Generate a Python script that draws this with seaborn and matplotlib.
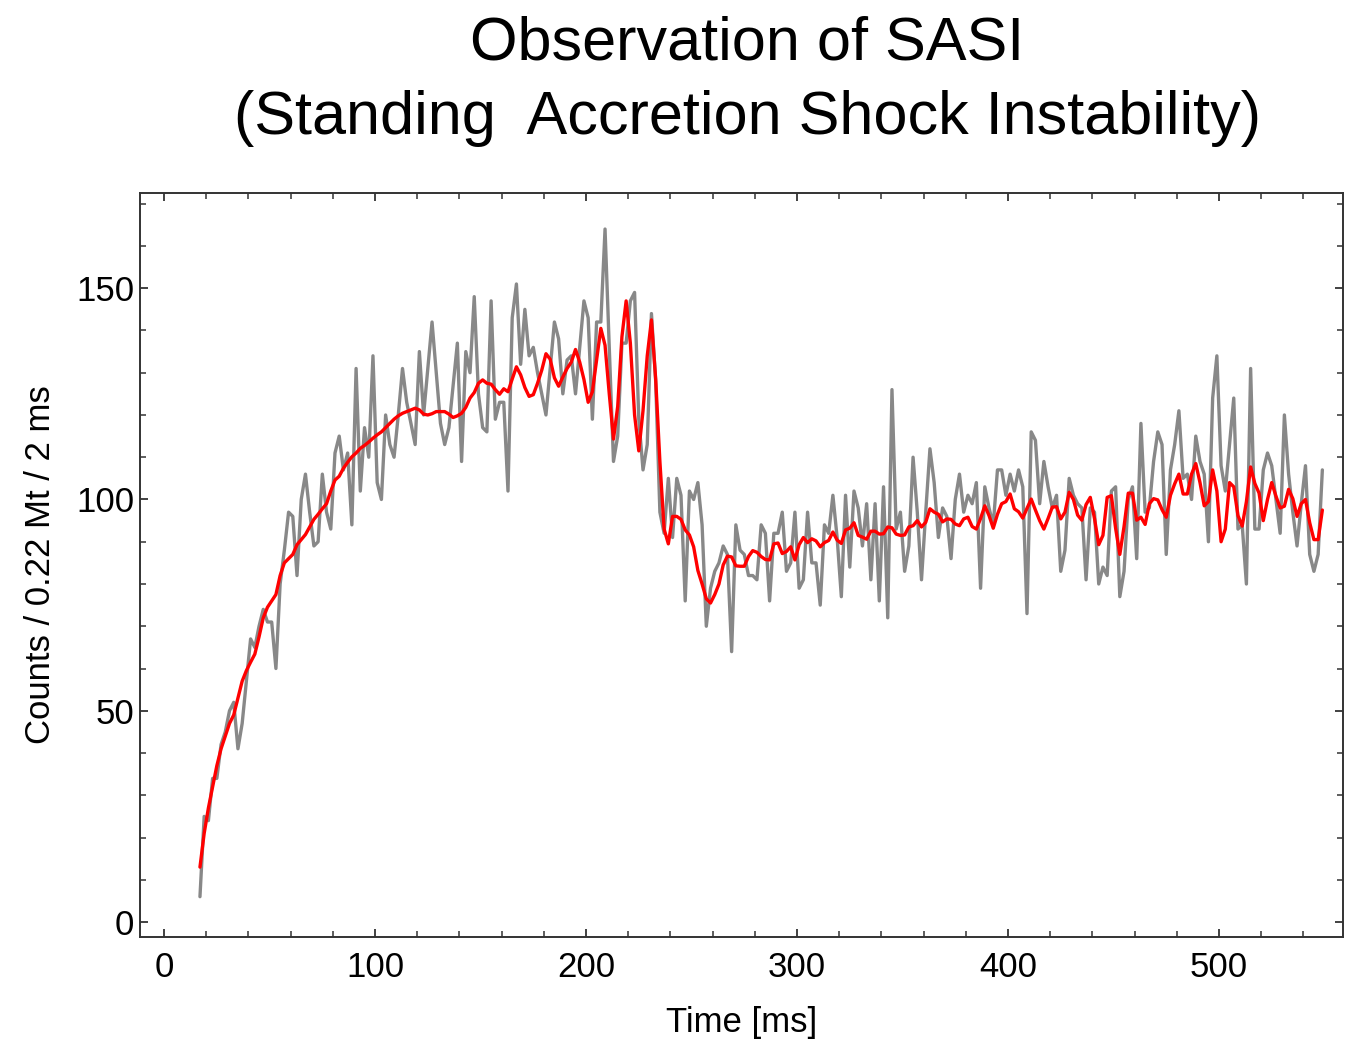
import numpy as np
import pandas as pd
import matplotlib
matplotlib.use("Agg")
import matplotlib.pyplot as plt
from matplotlib.ticker import MultipleLocator
import seaborn as sns

# time bins (ms), 2 ms wide
time_ms = np.arange(17, 550, 2)

# raw counts per 2 ms bin (gray)
counts = [
    6, 25, 24, 34, 34, 42, 45, 50, 52, 41,
    47, 57, 67, 65, 70, 74, 71, 71, 60, 80,
    88, 97, 96, 82, 100, 106, 97, 89, 90, 106,
    97, 93, 111, 115, 107, 111, 94, 131, 102, 117,
    110, 134, 104, 100, 120, 113, 110, 120, 131, 123,
    118, 113, 135, 120, 131, 142, 130, 118, 113, 117,
    127, 137, 109, 135, 130, 148, 125, 117, 116, 147,
    119, 123, 123, 102, 143, 151, 132, 145, 134, 136,
    130, 125, 120, 131, 142, 138, 125, 133, 134, 125,
    136, 147, 143, 119, 142, 142, 164, 136, 109, 115,
    137, 137, 147, 149, 119, 107, 113, 144, 128, 97,
    92, 105, 91, 105, 101, 76, 102, 100, 104, 94,
    70, 79, 83, 85, 89, 87, 64, 94, 88, 87,
    82, 82, 81, 94, 92, 76, 92, 92, 97, 83,
    85, 97, 79, 81, 97, 85, 85, 75, 94, 92,
    101, 91, 77, 101, 84, 102, 98, 89, 99, 81,
    99, 76, 103, 72, 126, 93, 97, 83, 89, 110,
    97, 81, 97, 112, 104, 91, 98, 96, 86, 100,
    106, 97, 101, 99, 104, 79, 103, 98, 94, 107,
    107, 101, 106, 102, 107, 103, 73, 116, 114, 99,
    109, 103, 98, 101, 83, 88, 105, 101, 99, 98,
    81, 98, 97, 80, 84, 82, 102, 103, 77, 83,
    100, 103, 86, 118, 97, 98, 109, 116, 113, 87,
    107, 113, 121, 105, 106, 100, 115, 109, 106, 90,
    124, 134, 108, 102, 113, 124, 93, 94, 80, 131,
    93, 93, 107, 111, 108, 100, 92, 120, 106, 97,
    89, 99, 108, 87, 83, 87, 107,
]

# smoothed curve (red)
smoothed = [
    13, 21, 27, 32, 37, 41, 44, 47, 49, 53,
    57, 59.5, 61.5, 63.4, 67.5, 72, 74.5, 76, 77.5, 82,
    85, 86, 87, 89.3, 90.5, 91.7, 93.5, 95.3, 96.5, 97.8,
    99, 102, 104.6, 105.5, 107.4, 108.8, 110.1, 111, 112.1, 112.8,
    113.6, 114.5, 115.3, 116, 117, 118, 119, 119.8, 120.4, 120.8,
    121.2, 121.6, 121.2, 120.2, 120, 120.3, 120.8, 120.8, 120.8, 120.2,
    119.4, 119.8, 120.4, 121.8, 124, 125.3, 127.5, 128.3, 127.5, 127.3,
    126, 124.9, 126.2, 125.5, 128.5, 131.4, 129.5, 126.5, 124.4, 124.8,
    127.5, 130.6, 134.5, 133.2, 128.8, 126.8, 129, 131, 132.5, 135.5,
    132.5, 128.4, 123, 125.5, 133, 140.5, 136.5, 125, 114.3, 122,
    138.5, 147, 137, 120, 111.5, 121, 134, 142.5, 128.5, 109,
    93, 89.5, 96, 96, 95.3, 92.8, 91.6, 88.8, 83.2, 80,
    76.5, 75.5, 77.5, 80, 84.5, 86.6, 86.4, 84.3, 84.2, 84.2,
    86.5, 87.9, 87.5, 86.5, 85.8, 85.7, 89.5, 89.7, 87.2, 87.7,
    88.8, 85.7, 89.3, 91, 89.8, 90.7, 90.2, 88.8, 89.8, 90.3,
    92.3, 90.4, 89.6, 92.8, 93.2, 94.5, 91.5, 91.1, 90.6, 92.5,
    92.5, 91.8, 91.9, 93.5, 93.3, 91.8, 91.5, 91.6, 93.5, 93.8,
    95, 93.5, 94.6, 97.8, 97, 96.5, 94.7, 95.4, 95.3, 94.2,
    93.8, 95.4, 95.8, 93.6, 93, 95.5, 98.5, 96.2, 93.2, 96.5,
    99, 99.5, 101.3, 97.8, 97.1, 95.6, 97.9, 100.1, 97.5, 95,
    93, 95.5, 98.2, 98.3, 95.4, 97, 101.7, 100, 96.3, 95.1,
    98.8, 100.5, 95.5, 89.3, 91.5, 100.5, 100.9, 93.2, 87, 93.6,
    101.5, 101.5, 95.1, 95.8, 94.1, 99, 100.2, 99.9, 97.6, 95.8,
    101, 103.7, 106, 101.3, 101.3, 106, 108.5, 104, 98.5, 99.5,
    107, 102, 90, 93, 104, 103, 96.2, 93.7, 99.5, 107.7,
    103.8, 101.5, 95, 100, 104, 100.8, 98, 98.4, 102.4, 100.2,
    96, 99, 100, 94.5, 90.5, 90.5, 97.5,
]

title_lines = ["Observation of SASI", "(Standing  Accretion Shock Instability)"]
x_label = "Time [ms]"
y_label = "Counts / 0.22 Mt / 2 ms"
x_ticks = [0, 100, 200, 300, 400, 500]
y_ticks = [0, 50, 100, 150]

df = pd.DataFrame({"t": time_ms, "counts": counts, "smooth": smoothed})

sns.set_theme(style="white")
plt.rcParams["font.family"] = ["Liberation Sans", "DejaVu Sans"]
plt.rcParams["text.color"] = "black"
plt.rcParams["axes.labelcolor"] = "black"

fig = plt.figure(figsize=(13.61, 10.40), dpi=100)
ax = fig.add_axes([0.1029, 0.099, 0.8839, 0.7157])

sns.lineplot(data=df, x="t", y="counts", ax=ax, color="#888888",
             linewidth=2.4, estimator=None, sort=False)
sns.lineplot(data=df, x="t", y="smooth", ax=ax, color="#ff0000",
             linewidth=2.4, estimator=None, sort=False)

ax.set_xlim(-11.4, 558.8)
ax.set_ylim(-3.55, 172.6)
ax.set_xticks(x_ticks)
ax.set_yticks(y_ticks)
ax.xaxis.set_minor_locator(MultipleLocator(20))
ax.yaxis.set_minor_locator(MultipleLocator(10))
ax.tick_params(which="both", direction="in", top=True, right=True,
               bottom=True, left=True, colors="#333333", labelcolor="black",
               labelsize=25)
ax.tick_params(which="major", length=6, width=1.3)
ax.tick_params(which="minor", length=4.5, width=1.1)
ax.tick_params(axis="x", pad=10)
ax.tick_params(axis="y", pad=4)
for s in ax.spines.values():
    s.set_color("#333333")
    s.set_linewidth(1.4)

ax.set_xlabel(x_label, fontsize=25, labelpad=16, color="black")
ax.set_ylabel(y_label, fontsize=25, labelpad=14, color="black")

fig.text(0.549, 0.958, title_lines[0], ha="center", va="center",
         fontsize=44, color="black")
fig.text(0.549, 0.886, title_lines[1], ha="center", va="center",
         fontsize=44, color="black")

fig.savefig("out.png", dpi=100, facecolor="white")
